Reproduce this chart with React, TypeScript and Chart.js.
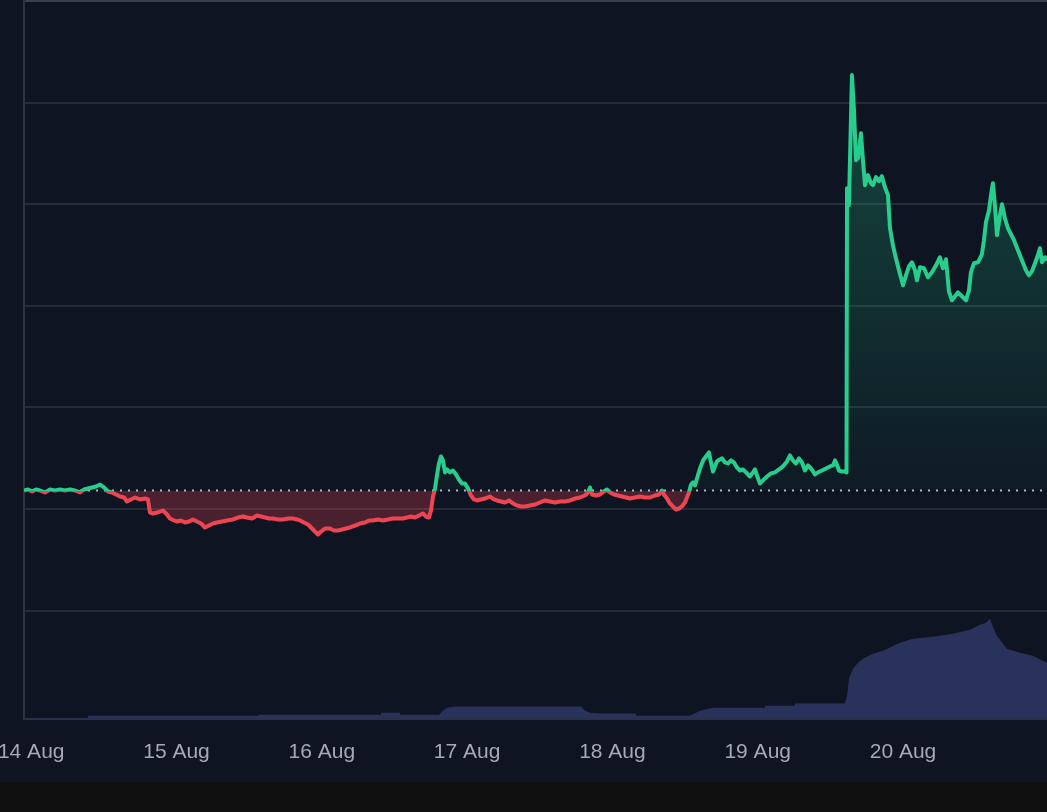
import React, { useEffect, useRef } from 'react';
import { Chart, registerables } from 'chart.js';

Chart.register(...registerables);

// Time in minutes since 14 Aug 00:00
const TIME_MIN = [
  -71, -32, 8, 48, 87, 137, 186, 236, 285, 335,
  385, 434, 484, 523, 563, 603, 642, 682, 721, 761,
  801, 840, 880, 920, 949, 989, 1029, 1078, 1128, 1157,
  1177, 1207, 1247, 1306, 1346, 1375, 1415, 1445, 1484, 1524,
  1564, 1603, 1643, 1683, 1722, 1762, 1802, 1841, 1891, 1940,
  2000, 2049, 2099, 2139, 2188, 2238, 2277, 2317, 2357, 2396,
  2446, 2495, 2545, 2594, 2634, 2664, 2703, 2743, 2783, 2812,
  2842, 2872, 2912, 2961, 3001, 3040, 3080, 3120, 3159, 3209,
  3258, 3308, 3348, 3387, 3437, 3486, 3536, 3585, 3635, 3685,
  3724, 3764, 3803, 3843, 3883, 3912, 3942, 3962, 3982, 4002,
  4021, 4041, 4061, 4081, 4101, 4121, 4150, 4180, 4210, 4239,
  4269, 4299, 4329, 4358, 4388, 4418, 4457, 4497, 4547, 4586,
  4616, 4656, 4695, 4735, 4775, 4814, 4854, 4894, 4943, 4993,
  5042, 5092, 5141, 5191, 5240, 5290, 5340, 5389, 5439, 5488,
  5518, 5538, 5558, 5597, 5637, 5676, 5706, 5736, 5776, 5815,
  5855, 5894, 5934, 5984, 6033, 6083, 6132, 6182, 6221, 6251,
  6271, 6301, 6330, 6360, 6390, 6420, 6449, 6479, 6499, 6519,
  6539, 6558, 6578, 6598, 6628, 6658, 6687, 6717, 6737, 6757,
  6776, 6796, 6826, 6846, 6876, 6905, 6935, 6965, 6994, 7024,
  7054, 7084, 7123, 7153, 7173, 7193, 7222, 7252, 7292, 7331,
  7371, 7411, 7450, 7490, 7520, 7549, 7579, 7609, 7639, 7668,
  7698, 7728, 7767, 7797, 7837, 7876, 7916, 7946, 7966, 7985,
  8005, 8035, 8065, 8080, 8085, 8104, 8134, 8154, 8174, 8194,
  8223, 8243, 8263, 8293, 8322, 8342, 8372, 8402, 8431, 8461,
  8491, 8511, 8540, 8570, 8600, 8640, 8669, 8699, 8729, 8758,
  8778, 8808, 8848, 8887, 8927, 8967, 9006, 9036, 9066, 9095,
  9125, 9155, 9185, 9224, 9264, 9294, 9313, 9343, 9383, 9422,
  9442, 9462, 9492, 9512, 9531, 9551, 9571, 9601, 9621, 9650,
  9680, 9710, 9740, 9779, 9819, 9858, 9888, 9918, 9948, 9977,
  9997, 10017, 10047, 10067,
];

const PRICE = [
  118.2, 119.2, 117.2, 119.2, 118.2, 116.3, 119.2, 118.2, 119.2, 118.2,
  119.2, 118.2, 116.3, 119.2, 120.2, 121.2, 122.2, 124.1, 121.2, 117.2,
  116.3, 114.3, 112.3, 111.3, 107.4, 109.4, 111.3, 109.4, 110.3, 109.4,
  96.5, 95.6, 96.5, 98.5, 94.6, 90.6, 88.7, 87.7, 88.7, 86.7,
  87.7, 89.7, 87.7, 85.7, 81.8, 83.7, 85.7, 86.7, 87.7, 88.7,
  89.7, 91.6, 92.6, 91.6, 90.6, 93.6, 92.6, 91.6, 90.6, 90.6,
  89.7, 89.7, 90.6, 90.6, 89.7, 88.7, 86.7, 84.7, 80.8, 77.8,
  74.9, 77.8, 80.8, 80.8, 78.8, 78.8, 79.8, 80.8, 81.8, 83.7,
  85.7, 86.7, 88.7, 88.7, 89.7, 88.7, 89.7, 90.6, 90.6, 90.6,
  91.6, 92.6, 91.6, 93.6, 95.6, 92.6, 91.6, 98.5, 112.3, 120.2,
  133.0, 144.8, 151.7, 147.8, 136.0, 138.9, 136.0, 137.9, 134.0, 129.1,
  125.1, 125.1, 120.2, 113.3, 109.4, 108.4, 109.4, 110.3, 112.3, 109.4,
  108.4, 107.4, 106.4, 108.4, 105.4, 103.4, 102.5, 102.5, 103.4, 104.4,
  106.4, 108.4, 107.4, 106.4, 107.4, 107.4, 108.4, 110.3, 111.3, 113.3,
  116.3, 121.2, 114.3, 113.3, 114.3, 117.2, 119.2, 116.3, 114.3, 113.3,
  112.3, 111.3, 110.3, 111.3, 112.3, 111.3, 111.3, 113.3, 114.3, 118.2,
  114.3, 110.3, 105.4, 102.5, 99.5, 100.5, 102.5, 106.4, 111.3, 116.3,
  124.1, 126.1, 123.2, 130.0, 139.9, 147.8, 151.7, 155.7, 145.8, 136.9,
  141.9, 146.8, 148.8, 149.8, 145.8, 144.8, 147.8, 145.8, 140.9, 137.9,
  138.9, 136.0, 132.0, 136.0, 138.9, 133.0, 125.1, 128.1, 132.0, 135.0,
  136.0, 138.9, 141.9, 146.8, 152.7, 147.8, 144.8, 149.8, 145.8, 137.9,
  142.9, 139.9, 134.0, 136.0, 137.9, 139.9, 141.9, 142.9, 147.8, 143.8,
  137.9, 136.9, 136.9, 136.0, 415.8, 399.0, 527.1, 492.6, 443.3, 445.3,
  469.9, 443.3, 418.7, 428.6, 420.7, 418.7, 426.6, 422.7, 427.6, 416.7,
  408.9, 376.3, 359.6, 346.8, 335.0, 320.2, 330.0, 338.9, 342.8, 335.0,
  325.1, 337.9, 336.9, 328.1, 333.0, 339.9, 347.8, 336.9, 345.8, 314.3,
  305.4, 309.4, 313.3, 309.4, 305.4, 315.3, 333.0, 341.9, 342.8, 350.7,
  364.5, 382.3, 394.1, 408.9, 420.7, 399.0, 369.5, 389.2, 400.0, 386.2,
  376.3, 370.4, 364.5, 354.7, 344.8, 335.0, 330.0, 334.0, 341.9, 349.7,
  356.6, 342.8, 347.8, 344.8,
];

const BASELINE = 118.2;

const VOL_TIME = [
  -71, 562, 563, 2247, 2248, 3466, 3467, 3654, 3655, 4041,
  4081, 4121, 4200, 5449, 5488, 5538, 5637, 5993, 5994, 6529,
  6628, 6757, 7271, 7272, 7568, 7569, 8064, 8085, 8104, 8144,
  8194, 8243, 8342, 8441, 8610, 8739, 8937, 9135, 9304, 9403,
  9462, 9502, 9531, 9571, 9670, 9799, 9928, 10067,
];
const VOL_VALUE = [
  0.5, 0.5, 3, 3, 4, 4, 6, 6, 4, 4,
  8, 11, 12.3, 12.3, 8, 6, 5.3, 5.3, 3, 3,
  8, 11, 11, 13, 13, 15.3, 15.3, 23, 40, 50,
  56, 60, 65, 68, 76, 80, 82, 85, 89, 94,
  96, 100, 92, 83, 70, 66, 63, 56,
];

const TICK_MINUTES = [0, 1440, 2880, 4320, 5760, 7200, 8640];
const TICK_LABELS = ['14 Aug', '15 Aug', '16 Aug', '17 Aug', '18 Aug', '19 Aug', '20 Aug'];
const GRID_VALUES = [0, 100, 200, 300, 400, 500, 600];

const X_MIN = -71.4;
const X_MAX = 10067;
const Y_MIN = -106.5;
const Y_MAX = 600;
const VOL_MAX = 717;

const GREEN = '#27cd8c';
const RED = '#ef4553';
const BG = '#0e1421';

function baseFraction(chart: any) {
  const area = chart.chartArea;
  const y = chart.scales.y;
  const base = y.getPixelForValue(BASELINE);
  return Math.min(Math.max((base - area.top) / (area.bottom - area.top), 0), 1);
}

function lineColor(ctx: any) {
  const chart = ctx.chart;
  const area = chart.chartArea;
  if (!area || !chart.scales || !chart.scales.y) return GREEN;
  const f = baseFraction(chart);
  const g = chart.ctx.createLinearGradient(0, area.top, 0, area.bottom);
  g.addColorStop(0, GREEN);
  g.addColorStop(f, GREEN);
  g.addColorStop(f, RED);
  g.addColorStop(1, RED);
  return g;
}

function fillColor(ctx: any) {
  const chart = ctx.chart;
  const area = chart.chartArea;
  if (!area || !chart.scales || !chart.scales.y) return 'rgba(39,205,140,0.15)';
  const f = baseFraction(chart);
  const g = chart.ctx.createLinearGradient(0, area.top, 0, area.bottom);
  g.addColorStop(0, 'rgba(39,205,140,0.32)');
  g.addColorStop(f, 'rgba(39,205,140,0.04)');
  g.addColorStop(f, 'rgba(239,69,83,0.27)');
  g.addColorStop(1, 'rgba(239,69,83,0.24)');
  return g;
}

export default function App() {
  const ref = useRef<HTMLCanvasElement>(null);

  useEffect(() => {
    document.body.style.margin = '0';
    const canvas = ref.current;
    if (!canvas) return;

    const priceData = TIME_MIN.map((x, i) => ({ x, y: PRICE[i] }));
    const volData = VOL_TIME.map((x, i) => ({ x, y: VOL_VALUE[i] }));
    const baseData = [
      { x: X_MIN, y: BASELINE },
      { x: X_MAX, y: BASELINE },
    ];

    const chart = new Chart(canvas, {
      type: 'line',
      data: {
        datasets: [
          {
            label: 'Price',
            data: priceData,
            yAxisID: 'y',
            borderColor: lineColor,
            backgroundColor: fillColor,
            borderWidth: 4,
            borderJoinStyle: 'round',
            pointRadius: 0,
            tension: 0,
            fill: { target: { value: BASELINE } },
            order: 0,
          },
          {
            label: 'Baseline',
            data: baseData,
            yAxisID: 'y',
            borderColor: 'rgba(205,210,220,0.85)',
            borderWidth: 2,
            borderDash: [2, 6],
            pointRadius: 0,
            fill: false,
            order: 1,
          },
          {
            label: 'Volume',
            data: volData,
            yAxisID: 'yVol',
            borderWidth: 0,
            borderColor: 'rgba(0,0,0,0)',
            backgroundColor: '#29325a',
            pointRadius: 0,
            tension: 0,
            fill: 'origin',
            order: 2,
          },
        ],
      },
      options: {
        responsive: false,
        animation: false,
        devicePixelRatio: 1,
        layout: { padding: { left: 64, top: 1, right: 0, bottom: 14 } },
        plugins: {
          legend: { display: false },
          tooltip: { enabled: false },
          filler: { drawTime: 'beforeDatasetsDraw' },
        },
        scales: {
          x: {
            type: 'linear',
            min: X_MIN,
            max: X_MAX,
            afterBuildTicks: (scale: any) => {
              scale.ticks = TICK_MINUTES.map((v) => ({ value: v }));
            },
            ticks: {
              autoSkip: false,
              maxRotation: 0,
              padding: 21,
              color: '#a4a9b4',
              font: { family: "'Liberation Sans', Arial, sans-serif", size: 21 },
              callback: (value: any) => {
                const i = TICK_MINUTES.indexOf(Number(value));
                return i >= 0 ? TICK_LABELS[i] : '';
              },
            },
            grid: { display: false, drawTicks: false },
            border: { display: true, color: '#2b3242', width: 2 },
          },
          y: {
            type: 'linear',
            position: 'left',
            min: Y_MIN,
            max: Y_MAX,
            afterBuildTicks: (scale: any) => {
              scale.ticks = GRID_VALUES.map((v) => ({ value: v }));
            },
            ticks: { display: false },
            grid: {
              drawTicks: false,
              lineWidth: 2,
              color: (ctx: any) =>
                ctx.tick && ctx.tick.value === Y_MAX ? '#383f4e' : '#242b39',
            },
            border: { display: true, color: '#2b3242', width: 2 },
          },
          yVol: {
            type: 'linear',
            display: false,
            min: 0,
            max: VOL_MAX,
          },
        },
      },
    } as any);

    return () => chart.destroy();
  }, []);

  return (
    <div
      style={{
        position: 'fixed',
        left: 0,
        top: 0,
        width: 1047,
        height: 812,
        background: '#101010',
        overflow: 'hidden',
      }}
    >
      <div
        style={{
          position: 'absolute',
          left: -40,
          top: 0,
          width: 1087,
          height: 782,
          background: BG,
          overflow: 'hidden',
        }}
      >
        <canvas ref={ref} width={1087} height={800} style={{ display: 'block' }} />
      </div>
    </div>
  );
}
